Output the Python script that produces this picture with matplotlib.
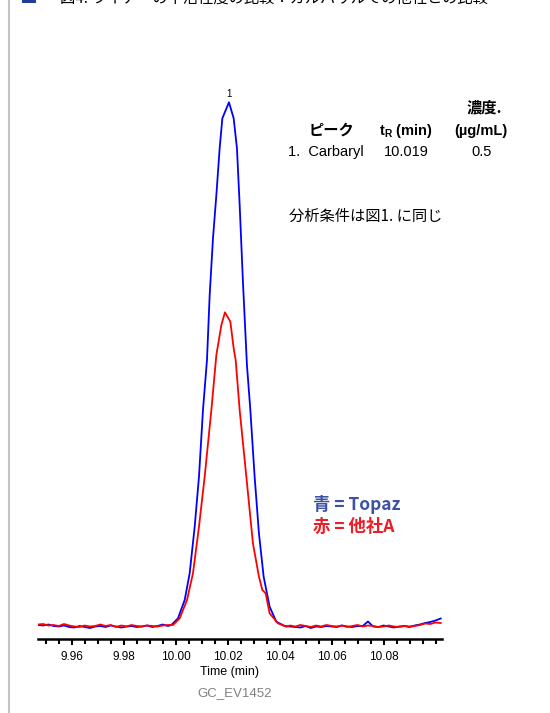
import numpy as np
import matplotlib
matplotlib.use("Agg")
import matplotlib.pyplot as plt
from matplotlib.ticker import MultipleLocator
from matplotlib.patches import Rectangle
from matplotlib.lines import Line2D

# ---------------- data ----------------
# baseline sample times (min)
base_left_t = [9.947 + 0.002 * i for i in range(26)]
base_right_t = [10.044 + 0.002 * i for i in range(30)]

blue_base_left = [2, 1.5, 2.5, 1, 0.5, 1.5, 0, -0.5, 1, 0, -1, 0.5, 1, 0, 1.5, 0.5,
                  -0.5, 0.5, 1, 0, 0.5, 1.5, 0, 1, 2.5, 1]
red_base_left = [2.5, 3, 1.5, 2, 1, 3, 1.5, 0.5, 0, 1.5, 0.5, 1, 2.5, 1, 2, 0,
                 1.5, 0.5, 2, 1, 0.5, 1.5, 1, 0.5, 1.5, 2]
blue_base_right = [0.5, 0, -0.5, 1, -1, 0.5, 0, 1, 0.5, 0, 1.5, 0.5, 0, 1, 1, 5.5,
                   0.5, 0, 1.5, 0.5, -0.5, 0.5, 1, 0, 1.5, 2.5, 4, 5, 6.5, 8.5]
red_base_right = [1.5, 0.5, 2, 1, 0, 1.5, 0.5, 2, 1, 0.5, 1.5, 0, 1, 2, 0.5, 1.5,
                  1, 0, 0.5, 1.5, 0.5, 0, 1, 0.5, 1, 2, 3.5, 3, 4.5, 4]

# peak region (Topaz, blue)
blue_peak_t = [9.99835, 10.00088, 10.00346, 10.00538, 10.00731, 10.00896, 10.0105,
               10.01204, 10.01308, 10.01435, 10.01565, 10.01692, 10.01796, 10.0205,
               10.02231, 10.02358, 10.02462, 10.02588, 10.02742, 10.02873, 10.03038,
               10.03204, 10.03385, 10.03615, 10.03873, 10.04192]
blue_peak_y = [2, 8.7, 27, 53.7, 100.3, 150.3, 217, 267, 332, 388.7, 432, 478.7,
               508.7, 524.7, 508.7, 478.7, 422, 345.3, 262, 217, 150.3, 93.7, 50.3,
               20.3, 5.3, 1]

# peak region (other brand A, red)
red_peak_t = [9.99896, 10.00154, 10.00435, 10.00665, 10.00896, 10.01115, 10.01373,
              10.01565, 10.01758, 10.01896, 10.02104, 10.02231, 10.02308, 10.02462,
              10.02719, 10.02973, 10.03204, 10.03335, 10.03462, 10.03615, 10.03935,
              10.04258]
red_peak_y = [2, 8.7, 27, 53.7, 100.3, 150.3, 217, 272, 302, 314.7, 305.3, 278.7,
              267, 217, 150.3, 83.7, 50.3, 37, 33.7, 13.7, 3.7, 0.3]

xticks = [9.96, 9.98, 10.00, 10.02, 10.04, 10.06, 10.08]
xticklabels = ["9.96", "9.98", "10.00", "10.02", "10.04", "10.06", "10.08"]

# ---------------- figure ----------------
W, H = 550, 713
fig = plt.figure(figsize=(W / 100, H / 100), dpi=100)

LAT = ["Liberation Sans", "DejaVu Sans"]
CJK = ["Noto Sans CJK JP", "DejaVu Sans"]
plt.rcParams["mathtext.fontset"] = "custom"
plt.rcParams["mathtext.bf"] = "Liberation Sans:bold"
plt.rcParams["mathtext.rm"] = "Liberation Sans"


def fx(px):
    return px / W


def fy(py):
    return 1 - py / H


ax = fig.add_axes([fx(38), fy(639), fx(442) - fx(38), fy(80) - fy(639)])

bt = base_left_t + blue_peak_t + base_right_t
by = blue_base_left + blue_peak_y + blue_base_right
rt = base_left_t + red_peak_t + base_right_t
ry = red_base_left + red_peak_y + red_base_right

ax.plot(bt, by, color="#0000ff", lw=1.3, solid_joinstyle="round")
ax.plot(rt, ry, color="#ff0000", lw=1.3, solid_joinstyle="round")

ax.set_xlim(9.947, 10.1025)
ax.set_ylim(-12, 547)
for s in ["left", "right", "top"]:
    ax.spines[s].set_visible(False)
ax.spines["bottom"].set_linewidth(1.8)
ax.set_yticks([])
ax.set_xticks(xticks)
ax.set_xticklabels(xticklabels, family=LAT, fontsize=8.5)
ax.xaxis.set_minor_locator(MultipleLocator(0.005))
ax.tick_params(axis="x", which="major", length=4, width=1.5, pad=5)
ax.tick_params(axis="x", which="minor", length=3.5, width=1.5)
ax.patch.set_alpha(0)

# peak label
ax.text(10.0205, 528, "1", ha="center", va="bottom", fontsize=7, family=LAT)

# table
fig.text(fx(484), fy(107), "濃度.", ha="center", va="center", fontsize=11,
         family=CJK, weight="bold")
fig.text(fx(331), fy(130), "ピーク", ha="center", va="center", fontsize=11,
         family=CJK, weight="bold")
fig.text(fx(406), fy(131), r"$\mathbf{t_R}$ (min)", ha="center", va="center",
         fontsize=10.5, family=LAT, weight="bold")
fig.text(fx(481), fy(131), "(µg/mL)", ha="center", va="center", fontsize=10.5,
         family=LAT, weight="bold")
fig.text(fx(288), fy(152), "1.  Carbaryl", ha="left", va="center", fontsize=10.5,
         family=LAT)
fig.text(fx(406), fy(152), "10.019", ha="center", va="center", fontsize=10.5,
         family=LAT)
fig.text(fx(482), fy(152), "0.5", ha="center", va="center", fontsize=10.5,
         family=LAT)
fig.text(fx(289), fy(216), "分析条件は図1. に同じ", ha="left", va="center",
         fontsize=11, family=CJK)

# legend-like annotations
fig.text(fx(313), fy(505), "青 = Topaz", ha="left", va="center", fontsize=12.5,
         family=CJK, weight="bold", color="#3d52a3")
fig.text(fx(313), fy(527), "赤 = 他社A", ha="left", va="center", fontsize=12.5,
         family=CJK, weight="bold", color="#ee1c25")

# axis title / id
fig.text(fx(229), fy(672), "Time (min)", ha="center", va="center", fontsize=9,
         family=LAT)
fig.text(fx(235), fy(693), "GC_EV1452", ha="center", va="center", fontsize=9.5,
         family=LAT, color="#808080")

# page border on the left
fig.add_artist(Line2D([fx(8.5), fx(8.5)], [0, 1], color="#c4c4c4", lw=1.5,
                      transform=fig.transFigure))

# clipped caption at the very top
fig.add_artist(Rectangle((fx(22), fy(3)), fx(14), fy(-10) - fy(3),
                         transform=fig.transFigure, color="#1f3f9a", lw=0))
fig.text(fx(60), fy(2.5), "図4. ライナーの不活性度の比較：カルバリルでの他社との比較",
         ha="left", va="baseline", fontsize=11, family=CJK)

fig.savefig("out.png", dpi=100)
